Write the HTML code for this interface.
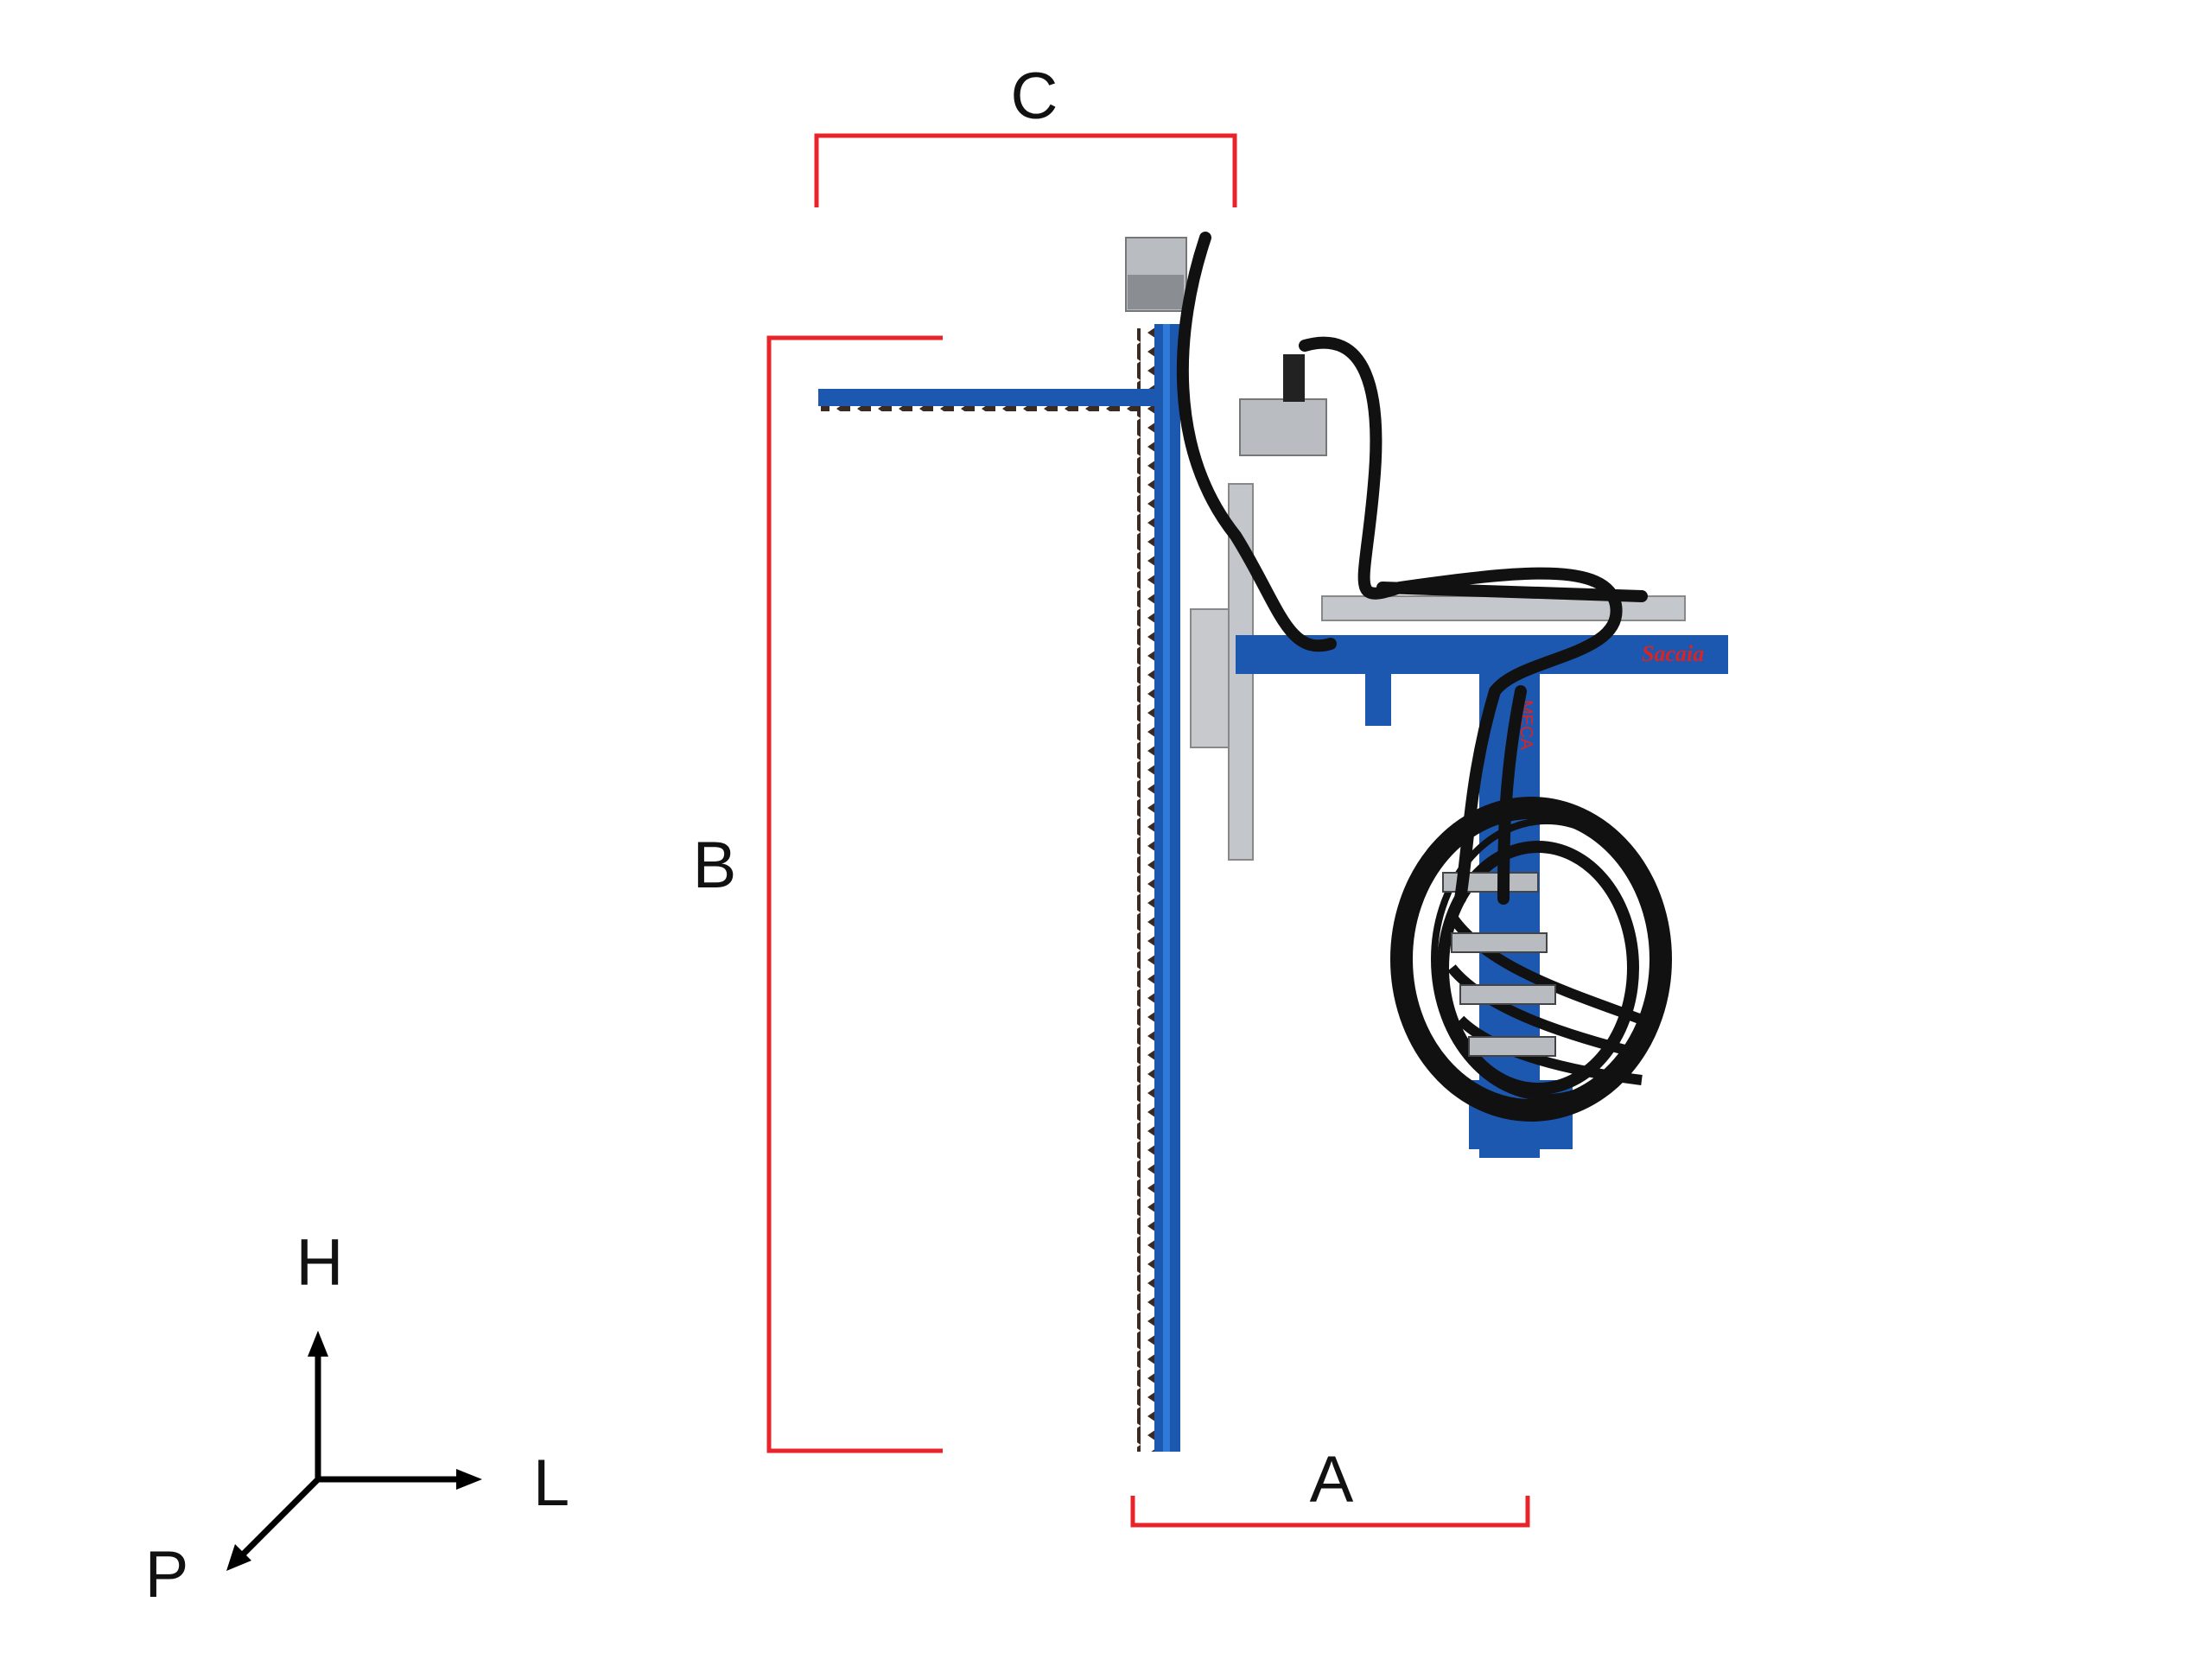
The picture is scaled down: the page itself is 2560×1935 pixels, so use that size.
<!DOCTYPE html>
<html><head><meta charset="utf-8"><style>
html,body{margin:0;padding:0;background:#fff;}
body{width:2560px;height:1935px;overflow:hidden;position:relative;}
svg{position:absolute;left:0;top:0;}
</style></head><body>
<svg width="2560" height="1935" viewBox="0 0 2560 1935" xmlns="http://www.w3.org/2000/svg">
<defs>
<pattern id="teeth" width="24" height="22" patternUnits="userSpaceOnUse">
<polygon points="24,0 8,11 24,22" fill="#3a2a22"/>
</pattern>
</defs>
<g stroke="#e8232a" stroke-width="5" fill="none">
<polyline points="945,240 945,157 1429,157 1429,240"/>
<polyline points="1091,391 890,391 890,1679 1091,1679"/>
<polyline points="1311,1731 1311,1765 1768,1765 1768,1731"/>
</g>
<g font-family="'Liberation Sans',sans-serif" font-size="76" fill="#111" text-anchor="middle">
<text x="1197" y="137">C</text>
<text x="827" y="1027">B</text>
<text x="1541" y="1738">A</text>
<text x="370" y="1487">H</text>
<text x="638" y="1742">L</text>
<text x="193" y="1848">P</text>
</g>
<g stroke="#000" stroke-width="7" fill="none">
<line x1="368" y1="1712" x2="368" y2="1565"/>
<line x1="368" y1="1712" x2="535" y2="1712"/>
<line x1="368" y1="1712" x2="280" y2="1800"/>
</g>
<polygon points="368,1540 356,1570 380,1570" fill="#000"/>
<polygon points="558,1712 528,1700 528,1724" fill="#000"/>
<polygon points="262,1818 272,1787 291,1806" fill="#000"/>
<g>
<rect x="1316" y="380" width="24" height="1300" fill="url(#teeth)"/>
<rect x="1336" y="375" width="30" height="1305" fill="#1d58b0"/>
<rect x="1346" y="375" width="8" height="1305" fill="#2f7ad8"/>
<rect x="1303" y="275" width="70" height="85" fill="#b9bcc0" stroke="#777" stroke-width="2"/>
<rect x="1305" y="318" width="65" height="40" fill="#8a8e93"/>
<rect x="947" y="450" width="392" height="20" fill="#1d58b0"/>
<rect x="950" y="470" width="385" height="6" fill="url(#teeth)"/>
<rect x="1378" y="705" width="56" height="160" fill="#c7c9cc" stroke="#888" stroke-width="2"/>
<rect x="1422" y="560" width="28" height="435" fill="#c3c6ca" stroke="#888" stroke-width="2"/>
<rect x="1435" y="462" width="100" height="65" fill="#b9bcc0" stroke="#777" stroke-width="2"/>
<rect x="1485" y="410" width="25" height="55" fill="#222"/>
<rect x="1430" y="735" width="570" height="45" fill="#1d58b0"/>
<rect x="1530" y="690" width="420" height="28" fill="#c4c7cb" stroke="#888" stroke-width="2"/>
<rect x="1580" y="780" width="30" height="60" fill="#1d58b0"/>
<text x="1900" y="765" font-family="'Liberation Serif',serif" font-style="italic" font-weight="bold" font-size="26" fill="#d22">Sacaia</text>
<rect x="1712" y="780" width="70" height="560" fill="#1d58b0"/>
<text x="1760" y="810" font-family="'Liberation Sans',sans-serif" font-size="20" fill="#d22" transform="rotate(90 1760 810)">MECA</text>
<rect x="1700" y="1250" width="120" height="80" fill="#1d58b0"/>
<ellipse cx="1772" cy="1110" rx="150" ry="175" fill="none" stroke="#111" stroke-width="26"/>
<ellipse cx="1780" cy="1120" rx="110" ry="140" fill="none" stroke="#111" stroke-width="14"/>
<ellipse cx="1790" cy="1110" rx="130" ry="160" fill="none" stroke="#111" stroke-width="8"/>
<g fill="none" stroke="#111" stroke-width="12">
<path d="M1680,1060 C1720,1120 1820,1150 1900,1180"/>
<path d="M1680,1120 C1720,1170 1820,1200 1900,1220"/>
<path d="M1690,1180 C1730,1220 1820,1240 1900,1250"/>
</g>
<g fill="#b8bbbf" stroke="#444" stroke-width="2">
<rect x="1670" y="1010" width="110" height="22"/>
<rect x="1680" y="1080" width="110" height="22"/>
<rect x="1690" y="1140" width="110" height="22"/>
<rect x="1700" y="1200" width="100" height="22"/>
</g>
<g fill="none" stroke="#111" stroke-width="14" stroke-linecap="round">
<path d="M1395,275 C1360,380 1350,520 1430,620 C1480,700 1490,760 1540,745"/>
<path d="M1510,400 C1580,380 1600,450 1590,560 C1580,680 1560,700 1620,680 C1760,660 1860,650 1870,700 C1880,760 1760,760 1730,800"/>
<path d="M1600,680 L1900,690"/>
<path d="M1730,800 C1700,900 1700,980 1690,1040"/>
<path d="M1760,800 C1740,900 1740,980 1740,1040"/>
</g>
</g>
</svg>
</body></html>
